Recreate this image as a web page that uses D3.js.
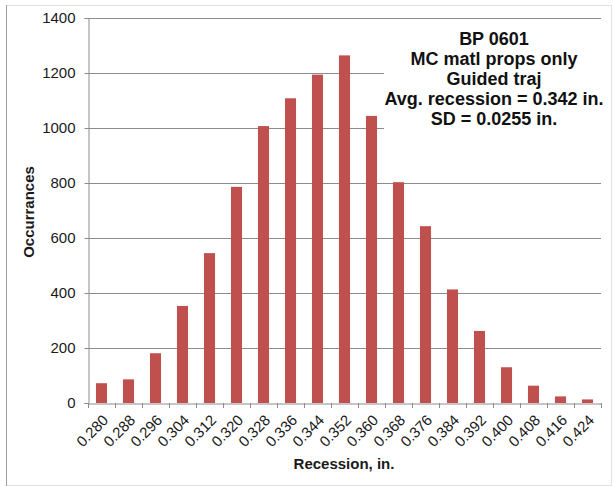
<!DOCTYPE html>
<html>
<head>
<meta charset="utf-8">
<script src="https://cdn.jsdelivr.net/npm/d3@7"></script>
<style>
  html, body { margin: 0; padding: 0; background: #fff; }
  svg { display: block; }
  text { font-family: "Liberation Sans", Arial, Helvetica, sans-serif; }
</style>
</head>
<body>
<svg id="chart" width="613" height="487"></svg>
<script>
const categories = ["0.280","0.288","0.296","0.304","0.312","0.320","0.328","0.336","0.344","0.352","0.360","0.368","0.376","0.384","0.392","0.400","0.408","0.416","0.424"];
const occurrences = [72, 86, 181, 353, 545, 786, 1007, 1108, 1194, 1264, 1044, 803, 643, 413, 262, 130, 63, 24, 13];
const yTicks = [0, 200, 400, 600, 800, 1000, 1200, 1400];
const annotationLines = ["BP 0601", "MC matl props only", "Guided traj", "Avg. recession = 0.342 in.", "SD = 0.0255 in."];
const xTitle = "Recession, in.";
const yTitle = "Occurrances";

(function () {
const svg = d3.select("#chart");
const pLeft = 88, pRight = 601, pTop = 18, pBottom = 403;

// outer frame
svg.append("rect").attr("x", 6.5).attr("y", 5.5).attr("width", 605).attr("height", 480)
  .attr("fill", "#fff").attr("stroke", "#e2e2e2");
svg.append("line").attr("x1", 6.5).attr("x2", 6.5).attr("y1", 5).attr("y2", 486)
  .attr("stroke", "#a0a0a0");

const x = d3.scaleBand().domain(categories).range([pLeft, pRight]).paddingInner(0.59).paddingOuter(0.295);
const y = d3.scaleLinear().domain([0, 1400]).range([pBottom, pTop]);

// gridlines
svg.append("g").selectAll("line").data(yTicks.filter(d => d > 0)).join("line")
  .attr("x1", pLeft).attr("x2", pRight)
  .attr("y1", d => Math.round(y(d)) + 0.5).attr("y2", d => Math.round(y(d)) + 0.5)
  .attr("stroke", "#8c8c8c").attr("stroke-width", 1);

// bars
svg.append("g").selectAll("rect").data(categories).join("rect")
  .attr("x", d => x(d))
  .attr("width", x.bandwidth())
  .attr("y", (d, i) => y(occurrences[i]))
  .attr("height", (d, i) => y(0) - y(occurrences[i]))
  .attr("fill", "#c0504d");

// y axis
const yAxis = d3.axisLeft(y).tickValues(yTicks).tickSize(4).tickPadding(9).tickFormat(d3.format("d"));
const gy = svg.append("g").attr("transform", `translate(${pLeft + 0.5},0)`).call(yAxis);
gy.select(".domain").attr("stroke", "#8c8c8c");
gy.selectAll(".tick line").attr("stroke", "#8c8c8c");
gy.selectAll(".tick text").attr("font-size", 15).attr("fill", "#1a1a1a")
  .attr("font-family", "'Liberation Sans', Arial, sans-serif");

// x axis
const xAxis = d3.axisBottom(x).tickSize(0).tickPadding(0);
const gx = svg.append("g").attr("transform", `translate(0,${pBottom + 0.5})`).call(xAxis);
gx.select(".domain").attr("stroke", "#8c8c8c");
const bounds = d3.range(categories.length + 1).map(i => pLeft + i * (pRight - pLeft) / categories.length);
svg.append("g").selectAll("line").data(bounds).join("line")
  .attr("x1", d => Math.round(d) + 0.5).attr("x2", d => Math.round(d) + 0.5)
  .attr("y1", pBottom).attr("y2", pBottom + 5)
  .attr("stroke", "#8c8c8c");
gx.selectAll(".tick text")
  .attr("font-size", 15).attr("fill", "#1a1a1a")
  .attr("font-family", "'Liberation Sans', Arial, sans-serif")
  .attr("text-anchor", "end")
  .attr("dy", "0.35em")
  .attr("transform", "translate(4,14) rotate(-45)");

// axis titles
svg.append("text").attr("x", 344).attr("y", 469).attr("text-anchor", "middle")
  .attr("font-size", 15).attr("font-weight", "bold").attr("fill", "#1a1a1a").text(xTitle);
svg.append("text").attr("transform", "translate(34,212) rotate(-90)").attr("text-anchor", "middle")
  .attr("font-size", 15).attr("font-weight", "bold").attr("fill", "#1a1a1a").text(yTitle);

// annotation box
svg.append("rect").attr("x", 384).attr("y", 24).attr("width", 222).attr("height", 112).attr("fill", "#fff");
svg.append("g").selectAll("text").data(annotationLines).join("text")
  .attr("x", 494).attr("y", (d, i) => 45 + i * 20)
  .attr("text-anchor", "middle").attr("font-size", 18).attr("font-weight", "bold").attr("fill", "#111")
  .text(d => d);
})();
</script>
</body>
</html>
